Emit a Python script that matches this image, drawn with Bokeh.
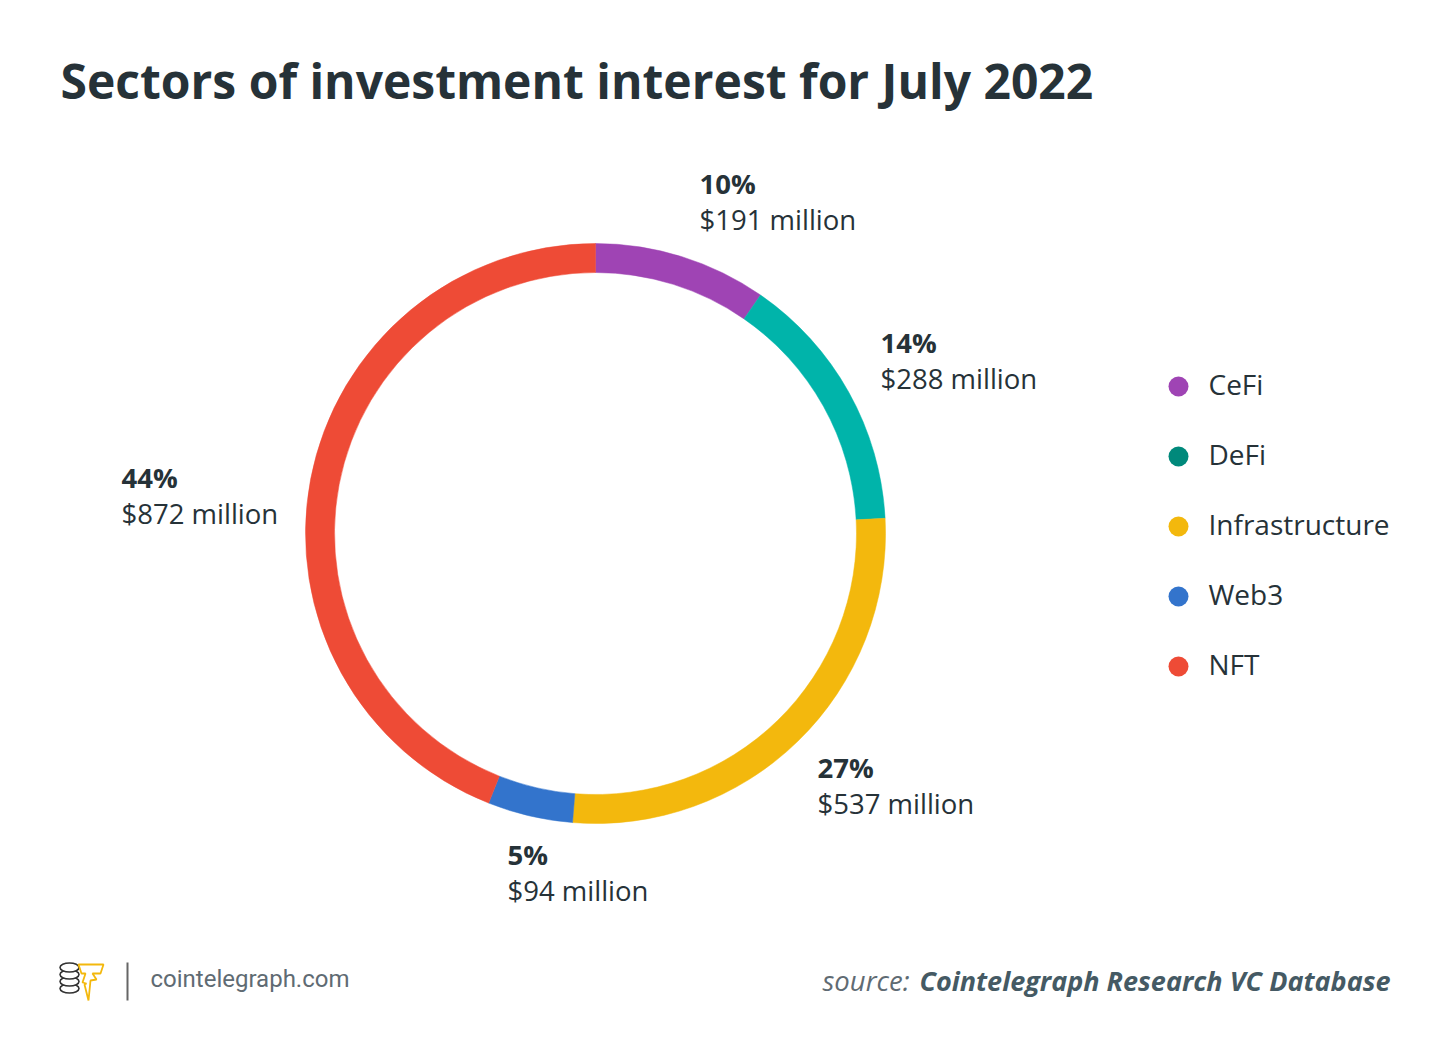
import numpy as np
from bokeh.plotting import figure
from bokeh.models import Range1d, ColumnDataSource
from bokeh.core.properties import value
from bokeh.embed import file_html
from bokeh.resources import INLINE

# ---- data ----
sectors = ["CeFi", "DeFi", "Infrastructure", "Web3", "NFT"]
amounts = [191, 288, 537, 94, 872]          # $ million
pct_labels = ["10%", "14%", "27%", "5%", "44%"]
amount_labels = ["$191 million", "$288 million", "$537 million", "$94 million", "$872 million"]
ring_colors = ["#9f44b4", "#00b4aa", "#f3b80d", "#3374cc", "#ee4b36"]
legend_colors = ["#9f44b4", "#00897b", "#f3b80d", "#3374cc", "#ee4b36"]

# ---- layout (reference pixel coords) ----
W, H = 1450, 1061
def Y(py):
    return H - py

def TY(py, size):
    # baseline correction for svg text rendering
    return Y(py - 0.41 * size)

p = figure(width=W, height=H, x_range=Range1d(0, W), y_range=Range1d(0, H),
           output_backend="svg", toolbar_location=None, min_border=0,
           background_fill_color="white", border_fill_color="white")
p.axis.visible = False
p.grid.visible = False
p.outline_line_color = None

FONT = value("Open Sans")
TXT = "#263238"

# title
p.text(x=[60], y=[TY(100, 48)], text=["Sectors of investment interest for July 2022"],
       text_font=FONT, text_font_size="48px", text_font_style="bold",
       text_color=TXT, text_baseline="alphabetic", text_align="left")

# donut
vals = np.array(amounts, dtype=float)
frac = vals / vals.sum()
c1 = np.cumsum(frac)
c0 = c1 - frac
start = np.pi / 2 - 2 * np.pi * c0
end = np.pi / 2 - 2 * np.pi * c1
cx, cy = 595, Y(533)
ring = ColumnDataSource(dict(x=[cx] * len(sectors), y=[cy] * len(sectors),
                             start=start, end=end, color=ring_colors))
p.annular_wedge(x="x", y="y", inner_radius=261, outer_radius=290,
                start_angle="start", end_angle="end", direction="clock",
                fill_color="color", line_color="color", line_width=0.5, source=ring)

# slice labels
LS = 27.5
lab_x = [699, 880, 817, 507, 121]
lab_y = [194, 353, 778, 865, 488]
labs = ColumnDataSource(dict(x=lab_x, yp=[TY(v, LS) for v in lab_y], yv=[TY(v + 36, LS) for v in lab_y],
                             pct=pct_labels, amt=amount_labels))
p.text(x="x", y="yp", text="pct", source=labs, text_font=FONT, text_font_size=f"{LS}px",
       text_font_style="bold", text_color=TXT, text_baseline="alphabetic")
p.text(x="x", y="yv", text="amt", source=labs, text_font=FONT, text_font_size=f"{LS}px",
       text_color=TXT, text_baseline="alphabetic")

# legend
leg_py = [386 + 70 * i for i in range(len(sectors))]
leg = ColumnDataSource(dict(x=[1178] * len(sectors), y=[Y(v) for v in leg_py],
                            ty=[TY(v + 9, 28) for v in leg_py],
                            tx=[1208] * len(sectors), name=sectors, color=legend_colors))
p.scatter(x="x", y="y", size=20, fill_color="color", line_color=None, source=leg)
p.text(x="tx", y="ty", text="name", source=leg, text_font=FONT, text_font_size="28px",
       text_color=TXT, text_baseline="alphabetic")

# footer: logo
for yy in [988, 981, 974, 967]:
    p.ellipse(x=[69], y=[Y(yy)], width=19, height=9, fill_color="white",
              line_color="#333333", line_width=1.6)
p.patch(x=[79, 103, 100, 92, 96, 90, 88, 84, 86, 82, 85, 81, 78],
        y=[Y(v) for v in [964, 964, 973, 973, 979, 980, 1000, 984, 983, 982, 973, 973, 964]],
        fill_color="white", line_color="#f3b80d", line_width=1.8)
p.segment(x0=[127], y0=[Y(962)], x1=[127], y1=[Y(1000)], line_color="#666666", line_width=2)
p.text(x=[150], y=[TY(988, 24)], text=["cointelegraph.com"], text_font=value("Roboto"),
       text_font_size="24px", text_color="#5f6b73", text_baseline="alphabetic")

# source
p.text(x=[822], y=[TY(991, 27.5)], text=["source:"], text_font=FONT, text_font_size="27.5px",
       text_font_style="italic", text_color="#5f6b73", text_baseline="alphabetic")
p.text(x=[1390], y=[TY(991, 27)], text=["Cointelegraph Research VC Database"], text_font=FONT,
       text_font_size="27px", text_font_style="bold italic", text_color="#455a64",
       text_baseline="alphabetic", text_align="right")

open("out.html", "w").write(file_html(p, INLINE))
